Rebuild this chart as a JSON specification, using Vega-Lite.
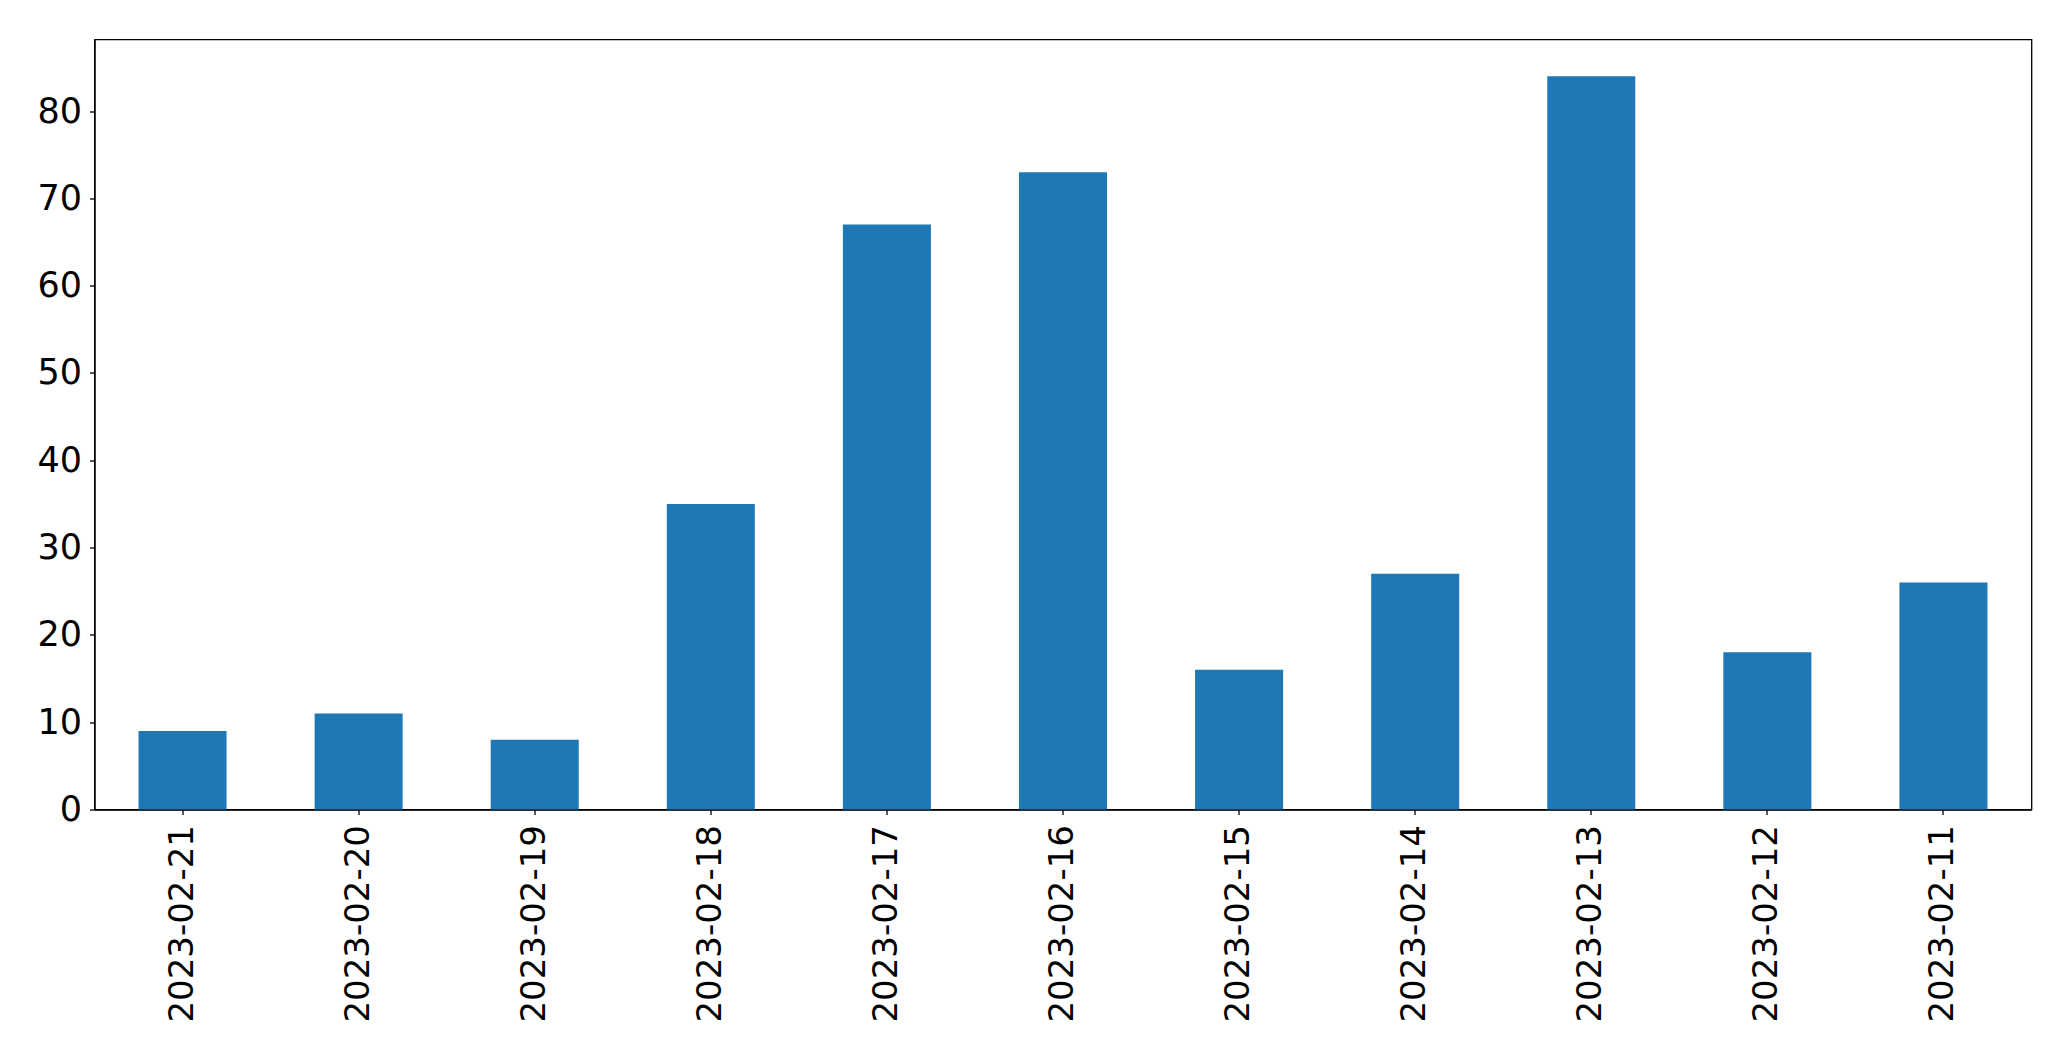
{
  "$schema": "https://vega.github.io/schema/vega-lite/v6.json",
  "width": 1937,
  "height": 770,
  "autosize": {"type": "none"},
  "padding": {"left": 94.5, "top": 39.5, "right": 39, "bottom": 252},
  "background": "white",
  "config": {
    "view": {"stroke": "black", "strokeWidth": 1.3},
    "axis": {"grid": false, "labelFont": "DejaVu Sans", "labelFontSize": 35, "labelLimit": 0, "labelColor": "black", "tickColor": "black", "domainColor": "black", "tickSize": 5, "tickWidth": 1.3, "domainWidth": 1.3}
  },
  "data": {"values": [
    {"date": "2023-02-21", "count": 9},
    {"date": "2023-02-20", "count": 11},
    {"date": "2023-02-19", "count": 8},
    {"date": "2023-02-18", "count": 35},
    {"date": "2023-02-17", "count": 67},
    {"date": "2023-02-16", "count": 73},
    {"date": "2023-02-15", "count": 16},
    {"date": "2023-02-14", "count": 27},
    {"date": "2023-02-13", "count": 84},
    {"date": "2023-02-12", "count": 18},
    {"date": "2023-02-11", "count": 26}
  ]},
  "mark": {"type": "bar", "color": "#1f77b4"},
  "encoding": {
    "x": {"field": "date", "type": "nominal", "sort": null, "title": null,
      "scale": {"paddingInner": 0.5, "paddingOuter": 0.25},
      "axis": {"labelAngle": -90, "labelPadding": 10, "labelFontSize": 34, "labelAlign": "right", "labelBaseline": "middle"}},
    "y": {"field": "count", "type": "quantitative", "title": null,
      "scale": {"domain": [0, 88.2], "nice": false},
      "axis": {"values": [0, 10, 20, 30, 40, 50, 60, 70, 80], "labelPadding": 8}}
  }
}
